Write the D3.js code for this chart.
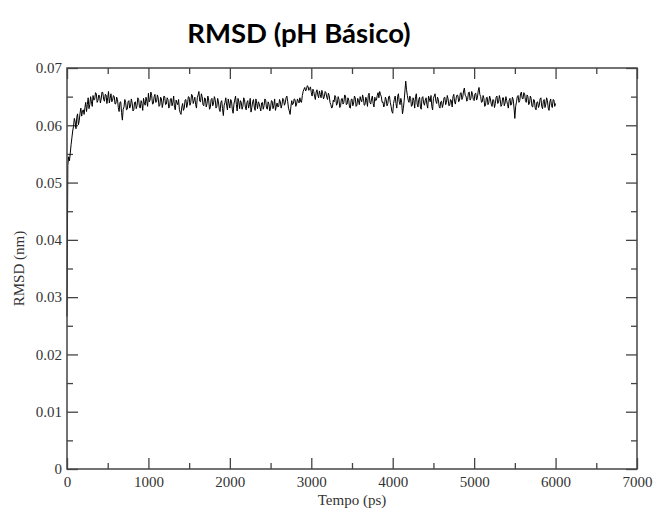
<!DOCTYPE html>
<html>
<head>
<meta charset="utf-8">
<script src="https://cdn.jsdelivr.net/npm/d3@7"></script>
<style>
  body { margin: 0; background: #fff; }
  .tick text { font-family: 'Liberation Serif', 'Times New Roman', serif; font-size: 15px; fill: #333; }
  .tick line { stroke: #444; stroke-width: 1.3; }
</style>
</head>
<body>
<div id="chart"></div>
<script>
const width = 656;
const height = 509;
const margin = {top: 68, right: 19, bottom: 40, left: 67};

const timeStep = 10;
const rmsd = [
  0.0266, 0.0530, 0.0545, 0.0538, 0.0551, 0.0566, 0.0578, 0.0590, 0.0598, 0.0612, 0.0606, 0.0594, 0.0614, 0.0620, 0.0601, 0.0608, 0.0621, 0.0630, 0.0616, 0.0625,
  0.0627, 0.0619, 0.0631, 0.0640, 0.0624, 0.0636, 0.0648, 0.0629, 0.0636, 0.0650, 0.0641, 0.0633, 0.0652, 0.0644, 0.0645, 0.0657, 0.0655, 0.0640, 0.0643, 0.0653,
  0.0651, 0.0639, 0.0646, 0.0658, 0.0657, 0.0645, 0.0642, 0.0654, 0.0653, 0.0638, 0.0648, 0.0659, 0.0639, 0.0647, 0.0655, 0.0641, 0.0644, 0.0652, 0.0650, 0.0637,
  0.0638, 0.0649, 0.0645, 0.0631, 0.0624, 0.0640, 0.0641, 0.0622, 0.0609, 0.0628, 0.0632, 0.0645, 0.0640, 0.0627, 0.0628, 0.0641, 0.0643, 0.0630, 0.0633, 0.0646,
  0.0639, 0.0625, 0.0627, 0.0640, 0.0641, 0.0629, 0.0634, 0.0648, 0.0645, 0.0632, 0.0630, 0.0643, 0.0638, 0.0626, 0.0647, 0.0639, 0.0635, 0.0649, 0.0642, 0.0633,
  0.0656, 0.0641, 0.0644, 0.0658, 0.0652, 0.0637, 0.0638, 0.0650, 0.0654, 0.0640, 0.0641, 0.0653, 0.0648, 0.0633, 0.0635, 0.0649, 0.0646, 0.0631, 0.0639, 0.0651,
  0.0650, 0.0636, 0.0637, 0.0648, 0.0645, 0.0630, 0.0633, 0.0646, 0.0647, 0.0634, 0.0640, 0.0651, 0.0631, 0.0627, 0.0644, 0.0639, 0.0636, 0.0645, 0.0628, 0.0622,
  0.0619, 0.0632, 0.0638, 0.0626, 0.0630, 0.0644, 0.0645, 0.0631, 0.0637, 0.0650, 0.0649, 0.0635, 0.0640, 0.0654, 0.0652, 0.0638, 0.0643, 0.0649, 0.0636, 0.0630,
  0.0648, 0.0653, 0.0659, 0.0642, 0.0641, 0.0655, 0.0650, 0.0636, 0.0634, 0.0648, 0.0646, 0.0632, 0.0638, 0.0651, 0.0644, 0.0628, 0.0631, 0.0645, 0.0647, 0.0634,
  0.0639, 0.0650, 0.0645, 0.0630, 0.0633, 0.0647, 0.0641, 0.0628, 0.0624, 0.0640, 0.0643, 0.0629, 0.0617, 0.0635, 0.0640, 0.0648, 0.0635, 0.0627, 0.0646, 0.0638,
  0.0630, 0.0645, 0.0642, 0.0628, 0.0621, 0.0637, 0.0644, 0.0651, 0.0636, 0.0625, 0.0647, 0.0641, 0.0629, 0.0643, 0.0640, 0.0628, 0.0633, 0.0648, 0.0645, 0.0632,
  0.0627, 0.0640, 0.0643, 0.0630, 0.0636, 0.0647, 0.0623, 0.0631, 0.0641, 0.0645, 0.0632, 0.0626, 0.0646, 0.0638, 0.0629, 0.0641, 0.0638, 0.0631, 0.0625, 0.0639,
  0.0640, 0.0628, 0.0634, 0.0646, 0.0644, 0.0630, 0.0628, 0.0641, 0.0637, 0.0625, 0.0630, 0.0643, 0.0642, 0.0629, 0.0635, 0.0646, 0.0626, 0.0633, 0.0639, 0.0632,
  0.0633, 0.0645, 0.0641, 0.0630, 0.0636, 0.0647, 0.0645, 0.0635, 0.0639, 0.0648, 0.0651, 0.0642, 0.0630, 0.0625, 0.0619, 0.0633, 0.0643, 0.0636, 0.0638, 0.0646,
  0.0645, 0.0633, 0.0637, 0.0646, 0.0642, 0.0639, 0.0648, 0.0641, 0.0640, 0.0652, 0.0659, 0.0663, 0.0666, 0.0660, 0.0662, 0.0669, 0.0668, 0.0661, 0.0664, 0.0667,
  0.0657, 0.0651, 0.0663, 0.0659, 0.0651, 0.0645, 0.0658, 0.0662, 0.0653, 0.0648, 0.0660, 0.0654, 0.0648, 0.0661, 0.0655, 0.0646, 0.0650, 0.0659, 0.0657, 0.0649,
  0.0645, 0.0656, 0.0652, 0.0640, 0.0636, 0.0630, 0.0632, 0.0644, 0.0641, 0.0652, 0.0649, 0.0635, 0.0638, 0.0650, 0.0645, 0.0631, 0.0634, 0.0646, 0.0647, 0.0637,
  0.0640, 0.0653, 0.0651, 0.0636, 0.0637, 0.0648, 0.0644, 0.0631, 0.0630, 0.0645, 0.0646, 0.0634, 0.0639, 0.0651, 0.0648, 0.0633, 0.0635, 0.0647, 0.0643, 0.0636,
  0.0650, 0.0644, 0.0641, 0.0653, 0.0647, 0.0635, 0.0636, 0.0649, 0.0644, 0.0633, 0.0652, 0.0656, 0.0640, 0.0637, 0.0646, 0.0651, 0.0638, 0.0632, 0.0649, 0.0643,
  0.0644, 0.0652, 0.0657, 0.0648, 0.0659, 0.0654, 0.0650, 0.0640, 0.0641, 0.0632, 0.0636, 0.0649, 0.0645, 0.0634, 0.0638, 0.0650, 0.0651, 0.0640, 0.0633, 0.0624,
  0.0621, 0.0638, 0.0645, 0.0651, 0.0638, 0.0630, 0.0650, 0.0655, 0.0641, 0.0636, 0.0647, 0.0640, 0.0620, 0.0629, 0.0642, 0.0660, 0.0677, 0.0662, 0.0652, 0.0644,
  0.0640, 0.0651, 0.0647, 0.0633, 0.0635, 0.0648, 0.0643, 0.0630, 0.0650, 0.0655, 0.0637, 0.0632, 0.0645, 0.0649, 0.0632, 0.0628, 0.0648, 0.0650, 0.0639, 0.0635,
  0.0644, 0.0648, 0.0636, 0.0630, 0.0651, 0.0646, 0.0641, 0.0652, 0.0633, 0.0627, 0.0647, 0.0651, 0.0655, 0.0642, 0.0638, 0.0649, 0.0645, 0.0633, 0.0630, 0.0641,
  0.0642, 0.0631, 0.0637, 0.0648, 0.0649, 0.0636, 0.0640, 0.0652, 0.0646, 0.0634, 0.0635, 0.0645, 0.0643, 0.0632, 0.0650, 0.0654, 0.0641, 0.0637, 0.0648, 0.0653,
  0.0652, 0.0641, 0.0644, 0.0656, 0.0657, 0.0645, 0.0649, 0.0660, 0.0665, 0.0652, 0.0651, 0.0642, 0.0645, 0.0657, 0.0658, 0.0644, 0.0647, 0.0659, 0.0654, 0.0645,
  0.0643, 0.0655, 0.0656, 0.0644, 0.0648, 0.0660, 0.0666, 0.0654, 0.0650, 0.0640, 0.0641, 0.0652, 0.0647, 0.0633, 0.0635, 0.0648, 0.0649, 0.0636, 0.0640, 0.0651,
  0.0646, 0.0637, 0.0633, 0.0645, 0.0644, 0.0631, 0.0638, 0.0649, 0.0651, 0.0638, 0.0640, 0.0652, 0.0645, 0.0633, 0.0636, 0.0648, 0.0648, 0.0634, 0.0639, 0.0650,
  0.0643, 0.0636, 0.0630, 0.0644, 0.0647, 0.0635, 0.0637, 0.0649, 0.0645, 0.0630, 0.0612, 0.0633, 0.0641, 0.0650, 0.0652, 0.0640, 0.0643, 0.0655, 0.0658, 0.0647,
  0.0646, 0.0657, 0.0655, 0.0643, 0.0640, 0.0653, 0.0650, 0.0636, 0.0638, 0.0651, 0.0647, 0.0633, 0.0632, 0.0645, 0.0644, 0.0630, 0.0627, 0.0640, 0.0641, 0.0631,
  0.0635, 0.0646, 0.0648, 0.0633, 0.0629, 0.0642, 0.0645, 0.0631, 0.0637, 0.0648, 0.0643, 0.0630, 0.0626, 0.0641, 0.0646, 0.0634, 0.0631, 0.0645, 0.0644, 0.0633,
  0.0638
];

const xMajorTicks = [0, 1000, 2000, 3000, 4000, 5000, 6000, 7000];
const xMinorTicks = [500, 1500, 2500, 3500, 4500, 5500, 6500];
const yMajorTicks = [0, 0.01, 0.02, 0.03, 0.04, 0.05, 0.06, 0.07];
const yMinorTicks = [0.005, 0.015, 0.025, 0.035, 0.045, 0.055, 0.065];

const innerW = width - margin.left - margin.right;
const innerH = height - margin.top - margin.bottom;

const svg = d3.select('#chart').append('svg')
    .attr('width', width)
    .attr('height', height);

svg.append('text')
    .attr('x', 299)
    .attr('y', 43)
    .attr('text-anchor', 'middle')
    .style('font-family', 'Lato, "Open Sans", sans-serif')
    .style('font-weight', 'bold')
    .style('font-size', '27.5px')
    .attr('fill', '#000')
    .text('RMSD (pH Básico)');

const g = svg.append('g')
    .attr('transform', `translate(${margin.left}, ${margin.top})`);

const x = d3.scaleLinear().domain([0, 7000]).range([0, innerW]);
const y = d3.scaleLinear().domain([0, 0.07]).range([innerH, 0]);

const majorLen = 11;
const minorLen = 6;

function addAxis (axis, transform) {
  const a = g.append('g').attr('transform', transform).call(axis);
  a.select('.domain').remove();
  return a;
}

// bottom
addAxis(d3.axisBottom(x).tickValues(xMajorTicks).tickSize(-majorLen).tickSizeOuter(0)
  .tickPadding(7).tickFormat(d3.format('d')), `translate(0, ${innerH})`);
addAxis(d3.axisBottom(x).tickValues(xMinorTicks).tickSize(-minorLen).tickFormat(''),
  `translate(0, ${innerH})`);
// top
addAxis(d3.axisTop(x).tickValues(xMajorTicks).tickSize(-majorLen).tickFormat(''), 'translate(0, 0)');
addAxis(d3.axisTop(x).tickValues(xMinorTicks).tickSize(-minorLen).tickFormat(''), 'translate(0, 0)');
// left
addAxis(d3.axisLeft(y).tickValues(yMajorTicks).tickSize(-majorLen).tickSizeOuter(0)
  .tickPadding(5).tickFormat(function (v) { return v === 0 ? '0' : v.toFixed(2); }), 'translate(0, 0)');
addAxis(d3.axisLeft(y).tickValues(yMinorTicks).tickSize(-minorLen).tickFormat(''), 'translate(0, 0)');
// right
addAxis(d3.axisRight(y).tickValues(yMajorTicks).tickSize(-majorLen).tickFormat(''), `translate(${innerW}, 0)`);
addAxis(d3.axisRight(y).tickValues(yMinorTicks).tickSize(-minorLen).tickFormat(''), `translate(${innerW}, 0)`);

// the data line
const line = d3.line()
  .x(function (d, i) { return x(i * timeStep); })
  .y(function (d) { return y(d); });

g.append('path')
    .datum(rmsd)
    .attr('fill', 'none')
    .attr('stroke', '#000')
    .attr('stroke-width', 1)
    .attr('stroke-linejoin', 'round')
    .attr('d', line);

g.append('rect')
    .attr('width', innerW)
    .attr('height', innerH)
    .attr('fill', 'none')
    .attr('stroke', '#444')
    .attr('stroke-width', 1.5);

// axis titles
g.append('text')
    .attr('x', innerW / 2)
    .attr('y', innerH + 36)
    .attr('text-anchor', 'middle')
    .style('font-family', '"Liberation Serif", serif')
    .style('font-size', '15px')
    .attr('fill', '#333')
    .text('Tempo (ps)');

g.append('text')
    .attr('transform', `translate(-43, ${innerH / 2}) rotate(-90)`)
    .attr('text-anchor', 'middle')
    .style('font-family', '"Liberation Serif", serif')
    .style('font-size', '15px')
    .attr('fill', '#333')
    .text('RMSD (nm)');
</script>
</body>
</html>
